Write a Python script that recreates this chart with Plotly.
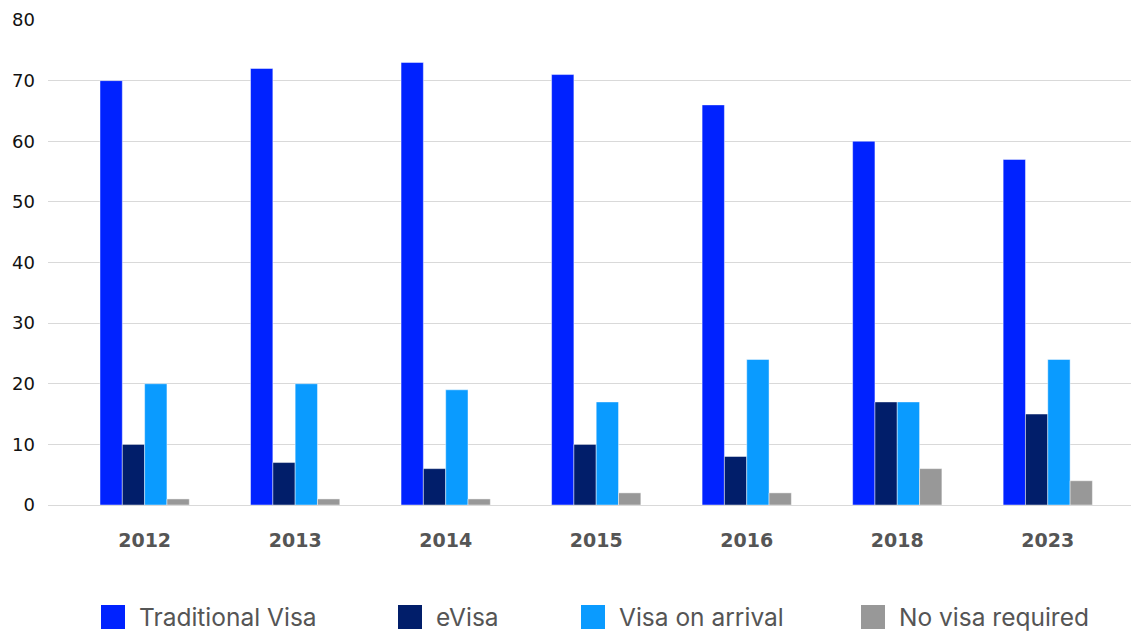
import plotly.graph_objects as go

years = ["2012", "2013", "2014", "2015", "2016", "2018", "2023"]
traditional_visa = [70, 72, 73, 71, 66, 60, 57]
evisa = [10, 7, 6, 10, 8, 17, 15]
visa_on_arrival = [20, 20, 19, 17, 24, 17, 24]
no_visa_required = [1, 1, 1, 2, 2, 6, 4]

series_names = ["Traditional Visa", "eVisa", "Visa on arrival", "No visa required"]
series_values = [traditional_visa, evisa, visa_on_arrival, no_visa_required]
series_colors = ["#0022FF", "#011E6A", "#0A9BFF", "#989898"]
y_ticks = [0, 10, 20, 30, 40, 50, 60, 70, 80]

# page has an 8px body margin; work in page pixels and shift
OFF = 8
W, H = 1139 - OFF, 632 - OFF
ML, MR, MT, MB = 48 - OFF, 0, 20 - OFF, 127
PW, PH = W - ML - MR, H - MT - MB

fig = go.Figure()
for name, vals, col in zip(series_names, series_values, series_colors):
    fig.add_trace(go.Bar(
        x=years, y=vals, name=name, showlegend=False,
        marker=dict(color=col, line=dict(color="rgba(255,255,255,0.45)", width=1)),
    ))

# custom legend (large squares) built from the series lists; page-pixel positions
legend_px = [101, 398, 581, 861]
def px_x(p):
    return (p - OFF - ML) / PW
def px_y(p):
    return (MT + PH - (p - OFF)) / PH
for name, col, lx in zip(series_names, series_colors, legend_px):
    fig.add_shape(type="rect", xref="paper", yref="paper",
                  x0=px_x(lx), x1=px_x(lx + 24), y0=px_y(629), y1=px_y(605),
                  fillcolor=col, line=dict(width=0))
    fig.add_annotation(xref="paper", yref="paper", x=px_x(lx + 36), y=px_y(617),
                       text=name, showarrow=False, xanchor="left", yanchor="middle",
                       font=dict(family="Inter", size=24.5, color="#555555"))

fig.update_layout(
    width=W, height=H,
    margin=dict(l=ML, r=MR, t=MT, b=MB),
    paper_bgcolor="white", plot_bgcolor="white",
    barmode="group", bargap=0.407, bargroupgap=0,
    showlegend=False,
)
fig.update_xaxes(
    type="category", range=[-0.642, 6.606],
    showgrid=False, showline=False, zeroline=False, ticks="",
    tickfont=dict(family="DejaVu Sans", size=19, color="#555555", weight="bold"),
    ticklabelstandoff=22,
)
fig.update_yaxes(
    range=[0, 80], tickvals=y_ticks,
    showgrid=True, gridcolor="#d9d9d9", gridwidth=1,
    zeroline=True, zerolinecolor="#d9d9d9", zerolinewidth=1,
    showline=False, ticks="",
    tickfont=dict(family="DejaVu Sans", size=18, color="#111111"),
    ticklabelstandoff=12,
)

fig.write_html("out.html")
